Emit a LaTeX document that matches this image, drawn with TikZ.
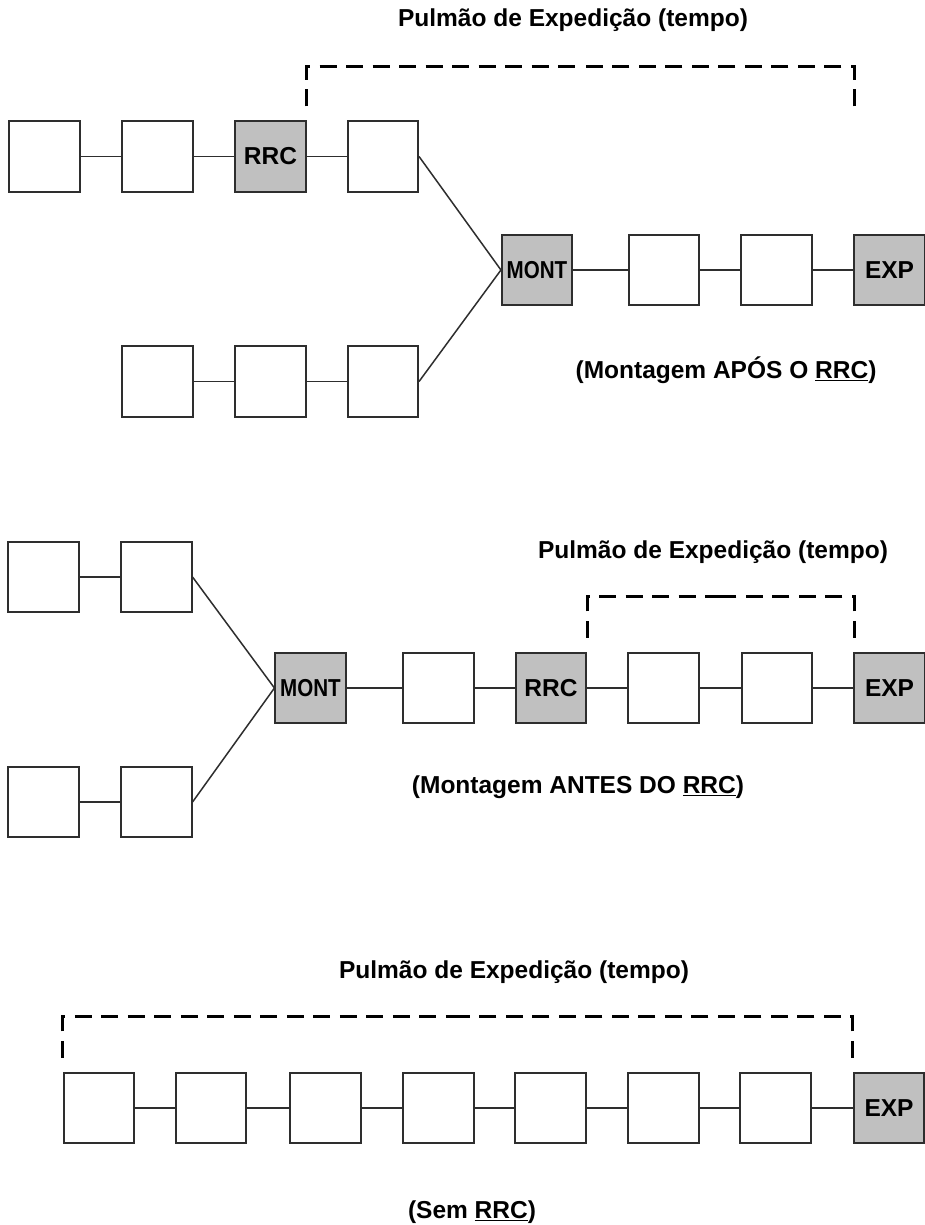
\documentclass[tikz,border=0pt]{standalone}
\usepackage{fontspec}
\setmainfont{Liberation Sans}
\usetikzlibrary{calc}
\definecolor{boxgray}{HTML}{C0C0C0}
\definecolor{edge}{HTML}{2E2E2E}
\begin{document}
\begin{tikzpicture}[x=1pt,y=-1pt,
  stage/.style={draw=edge,line width=1.6pt,fill=white,minimum width=70.5pt,
    minimum height=70.5pt,inner sep=0pt,font=\fontsize{24.5}{29}\selectfont\bfseries},
  key/.style={stage,fill=boxgray},
  link/.style={draw=edge,line width=1.5pt},
  bracket/.style={line width=3pt,dash pattern=on 17pt off 9.5pt},
  caption/.style={font=\fontsize{24.5}{29}\selectfont\bfseries,inner sep=0pt}]
\fill[white] (0,0) rectangle (924,1225);
\useasboundingbox (0,0) rectangle (924,1225);

% ---------- Montagem após o RRC ----------
\node[caption] (t1) at (573,20.6) {Pulmão de Expedição (tempo)};
\node[stage] (a1) at (44.5,156.5) {};
\node[stage] (a2) at (157.5,156.5) {};
\node[key]   (a3) at (270.5,156.5) {RRC};
\node[stage] (a4) at (383,156.5) {};
\node[stage] (b1) at (157.5,381.5) {};
\node[stage] (b2) at (270.5,381.5) {};
\node[stage] (b3) at (383,381.5) {};
\node[key]   (m1) at (537,270) {\scalebox{0.84}[1]{MONT}};
\node[stage] (c1) at (664,270) {};
\node[stage] (c2) at (776.5,270) {};
\node[key]   (e1) at (889.5,270) {EXP};
\node[caption] (l1) at (726,370) {(Montagem APÓS O \underline{RRC})};

\draw[link] (a1.east) -- (a2.west);
\draw[link] (a2.east) -- (a3.west);
\draw[link] (a3.east) -- (a4.west);
\draw[link] (b1.east) -- (b2.west);
\draw[link] (b2.east) -- (b3.west);
\draw[link] (a4.east) -- (m1.west);
\draw[link] (b3.east) -- (m1.west);
\draw[link] (m1.east) -- (c1.west);
\draw[link] (c1.east) -- (c2.west);
\draw[link] (c2.east) -- (e1.west);

% buffer bracket: from RRC to EXP, drawn from both feet towards the middle
\coordinate (k1a) at ([yshift=14pt]a3.north east);
\coordinate (k1b) at ([xshift=1pt]e1.west |- k1a);
\coordinate (k1m) at ($(k1a)!0.5!(k1b)+(0,-40)$);
\draw[bracket] (k1a) |- (k1m);
\draw[bracket] (k1b) |- (k1m);

% ---------- Montagem antes do RRC ----------
\node[caption] (t2) at (713,552) {Pulmão de Expedição (tempo)};
\node[stage] (p1) at (43.5,577) {};
\node[stage] (p2) at (156.5,577) {};
\node[stage] (q1) at (43.5,802) {};
\node[stage] (q2) at (156.5,802) {};
\node[key]   (m2) at (310.5,688) {\scalebox{0.84}[1]{MONT}};
\node[stage] (r1) at (438.5,688) {};
\node[key]   (r2) at (551,688) {RRC};
\node[stage] (r3) at (663.5,688) {};
\node[stage] (r4) at (777,688) {};
\node[key]   (e2) at (889.5,688) {EXP};
\node[caption] (l2) at (578,787) {(Montagem ANTES DO \underline{RRC})};

\draw[link] (p1.east) -- (p2.west);
\draw[link] (q1.east) -- (q2.west);
\draw[link] (p2.east) -- (m2.west);
\draw[link] (q2.east) -- (m2.west);
\draw[link] (m2.east) -- (r1.west);
\draw[link] (r1.east) -- (r2.west);
\draw[link] (r2.east) -- (r3.west);
\draw[link] (r3.east) -- (r4.west);
\draw[link] (r4.east) -- (e2.west);

\coordinate (k2a) at ([yshift=14pt]r2.north east);
\coordinate (k2b) at ([yshift=14pt,xshift=1pt]e2.north west);
\coordinate (k2m) at ($(k2a)!0.5!(k2b)+(0,-41)$);
\draw[bracket] (k2a) |- (k2m);
\draw[bracket] (k2b) |- (k2m);

% ---------- Sem RRC ----------
\node[caption] (t3) at (514,972) {Pulmão de Expedição (tempo)};
\node[stage] (s1) at (99,1108) {};
\node[stage] (s2) at (211,1108) {};
\node[stage] (s3) at (325.5,1108) {};
\node[stage] (s4) at (438.5,1108) {};
\node[stage] (s5) at (550.5,1108) {};
\node[stage] (s6) at (663.5,1108) {};
\node[stage] (s7) at (775.5,1108) {};
\node[key]   (e3) at (889,1108) {EXP};
\node[caption] (l3) at (472,1212) {(Sem \underline{RRC})};

\draw[link] (s1.east) -- (s2.west);
\draw[link] (s2.east) -- (s3.west);
\draw[link] (s3.east) -- (s4.west);
\draw[link] (s4.east) -- (s5.west);
\draw[link] (s5.east) -- (s6.west);
\draw[link] (s6.east) -- (s7.west);
\draw[link] (s7.east) -- (e3.west);

\coordinate (k3a) at ([yshift=14pt]s1.north west);
\coordinate (k3b) at ([yshift=14pt]e3.north west);
\coordinate (k3m) at ($(k3a)!0.5!(k3b)+(0,-41)$);
\draw[bracket] (k3a) |- (k3m);
\draw[bracket] (k3b) |- (k3m);
\end{tikzpicture}
\end{document}
